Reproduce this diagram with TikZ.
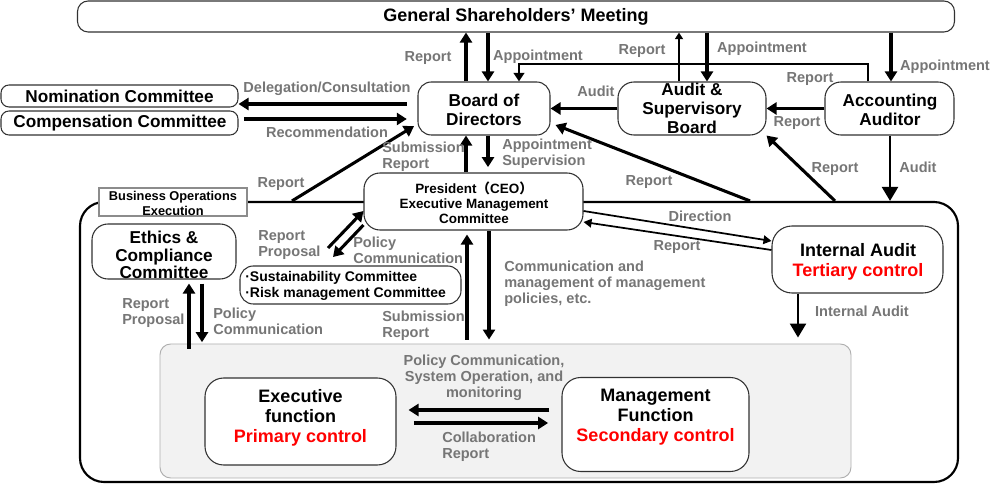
\documentclass[tikz,border=0pt]{standalone}
\usepackage{fontspec}
\setmainfont{Liberation Sans}
\newfontfamily\cjkfont{Noto Sans CJK JP}
\usetikzlibrary{arrows.meta}
\definecolor{lblgray}{RGB}{118,118,118}
\definecolor{bordergray}{RGB}{50,50,50}
\definecolor{panelfill}{RGB}{242,242,242}
\definecolor{panelline}{RGB}{175,175,175}
\definecolor{boegray}{RGB}{140,140,140}
\definecolor{ctrlred}{RGB}{255,0,0}
\newcommand\fontlbl{\fontsize{10.9pt}{12pt}\selectfont\bfseries}
\newcommand\fonttitle{\fontsize{13.5pt}{15pt}\selectfont\bfseries}
\newcommand\fontmid{\fontsize{12.9pt}{14.2pt}\selectfont\bfseries}
\newcommand\fonteth{\fontsize{12.9pt}{13.1pt}\selectfont\bfseries}
\newcommand\fontpres{\fontsize{10.1pt}{11.25pt}\selectfont\bfseries}
\newcommand\fontsus{\fontsize{10.5pt}{11.4pt}\selectfont\bfseries}
\newcommand\fontboe{\fontsize{9.6pt}{11.2pt}\selectfont\bfseries}
\newcommand\fontbig{\fontsize{13.5pt}{15pt}\selectfont\bfseries}
\tikzset{
  wh/.style 2 args={minimum width=#1*0.75pt, minimum height=#2*0.75pt},
  box/.style={draw=bordergray, line width=0.8pt, fill=white, inner sep=0pt},
  txt/.style={inner sep=0pt, align=center, text=black},
  lbl/.style={inner sep=0pt, align=left, text=lblgray, font=\fontlbl},
  arr/.style={line width=2.3pt, -{Triangle[length=7.5pt,width=9pt]}},
  arrmid/.style={line width=1.6pt, -{Triangle[length=6.5pt,width=8pt]}},
  arrthin/.style={line width=1.3pt, -{Triangle[length=5pt,width=6pt]}},
  bigarr/.style={line width=1.8pt, -{Triangle[length=10.5pt,width=12pt]}},
  linarr/.style={line width=1.3pt, -{Triangle[length=6pt,width=6.5pt]}}
}
\begin{document}
\begin{tikzpicture}[x=0.75pt,y={(0pt,-0.75pt)}]
\useasboundingbox (0,0) rectangle (1000,484);
\fill[white] (0,0) rectangle (1000,484);

% outer organisation box
\node[draw=black, line width=1.6pt, rounded corners=18pt, wh={878}{280}, inner sep=0pt] (org) at (519,342) {};
% panel
\node[draw=panelline, line width=0.7pt, fill=panelfill, rounded corners=8pt, wh={691}{134}, inner sep=0pt] (panel) at (505.5,411) {};

% boxes
\node[box, rounded corners=8pt, wh={877}{31}] (gsm) at (516,16.5) {};
\node[box, rounded corners=6pt, wh={237}{22}] (nom) at (119.5,96) {};
\node[box, rounded corners=6pt, wh={237}{24}] (comp) at (119.5,123) {};
\node[box, rounded corners=10pt, wh={132}{53}] (bod) at (484,108.5) {};
\node[box, rounded corners=12pt, wh={148}{53}] (asb) at (692,108.5) {};
\node[box, rounded corners=12pt, wh={129}{53}] (aa) at (889.5,108.5) {};
\node[box, draw=boegray, wh={148}{28}] (boe) at (173,202) {};
\node[box, rounded corners=12pt, wh={219}{57}] (pres) at (473.5,201.5) {};
\node[box, rounded corners=12pt, wh={144}{55}] (eth) at (164,251.5) {};
\node[box, rounded corners=10pt, wh={221}{38}] (sus) at (350.5,285) {};
\node[box, rounded corners=15pt, wh={171}{67}] (ia) at (857.5,259.5) {};
\node[box, rounded corners=14pt, wh={191}{87}] (exe) at (300.5,421.5) {};
\node[box, rounded corners=14pt, wh={187}{94}] (mgmt) at (655.5,424.5) {};

% box texts
\node[txt, font=\fonttitle] (gsmT) at (516,17) {General Shareholders’ Meeting};
\node[txt, font=\fontmid] (nomT) at (119.5,96.5) {Nomination Committee};
\node[txt, font=\fontmid] (compT) at (120,123.5) {Compensation Committee};
\node[txt, font=\fontmid] (bodT) at (484,110) {Board of\\Directors};
\node[txt, font=\fontmid] (asbT) at (692,108.5) {Audit \&\\Supervisory\\Board};
\node[txt, font=\fontmid] (aaT) at (890,109.5) {Accounting\\Auditor};
\node[txt, font=\fontboe] (boeT) at (173,203) {Business Operations\\Execution};
\node[txt, font=\fontpres] (presT) at (474,202.5) {President{\cjkfont （}CEO{\cjkfont ）}\\Executive Management\\Committee};
\node[txt, font=\fonteth] (ethT) at (164,255) {Ethics \&\\Compliance\\Committee};
\node[txt, font=\fontsus, align=left, anchor=west] (susT) at (245,286) {·Sustainability Committee\\·Risk management Committee};
\node[txt, font=\fontbig] (iaT) at (858,261.5) {Internal Audit\\\textcolor{ctrlred}{Tertiary control}};
\node[txt, font=\fontbig] (exeT) at (300.5,418) {Executive\\function\\\textcolor{ctrlred}{Primary control}};
\node[txt, font=\fontbig] (mgmtT) at (655.5,417.5) {Management\\Function\\\textcolor{ctrlred}{Secondary control}};

% coordinates for free arrow ends
\coordinate (sp1) at (328,248);
\coordinate (sp2) at (333,257);
\coordinate (bend1) at (868,64);
\coordinate (bend2) at (519,64);

% GSM <-> Board
\draw[arr] (bod.north -| 466,0) -- (gsm.south -| 466,0);
\draw[arr] (gsm.south -| 488,0) -- (bod.north -| 488,0);
% Accounting auditor line to Board
\draw[arrmid] (aa.north -| 868,0) -- (bend1) -- (bend2) -- (bod.north -| 519,0);
% GSM <-> ASB
\draw[arrthin] (asb.north -| 679,0) -- (gsm.south -| 679,0);
\draw[arr] (gsm.south -| 707,0) -- (asb.north -| 707,0);
% GSM -> AA
\draw[arr] (gsm.south -| 891,0) -- (aa.north -| 891,0);
% ASB -> Board, AA -> ASB
\draw[arr] (asb.west) -- (bod.east);
\draw[arr] (aa.west) -- (asb.east);
% Board -> Nomination, Compensation -> Board
\draw[arr, shorten <=8pt] (bod.west |- 0,104) -- (nom.east |- 0,104);
\draw[arr, shorten <=4pt, shorten >=8pt] (comp.east |- 0,119) -- (bod.west |- 0,119);
% Business operations -> Board
\draw[arr, shorten >=3pt] (org.north -| 292,0) -- (bod.west |- 0,124);
% Board <-> President
\draw[arr] (pres.north -| 466,0) -- (bod.south -| 466,0);
\draw[arr, shorten >=4pt] (bod.south -| 488,0) -- (pres.north -| 488,0);
% outer -> Board, outer -> ASB
\draw[arr, shorten >=4pt] (org.north -| 750,0) -- (bod.east |- 0,123);
\draw[arr] (org.north -| 835,0) -- (asb.south east);
% AA -> outer (Audit)
\draw[bigarr] (aa.south -| 890,0) -- (org.north -| 890,0);
% President <-> Internal audit
\draw[linarr] (pres.east |- 0,211) -- (ia.west |- 0,241);
\draw[linarr] (ia.west |- 0,250) -- (pres.east |- 0,222);
% Sustainability <-> President
\draw[arr] (sp1) -- (pres.west |- 0,211);
\draw[arr] (pres.west |- 0,225) -- (sp2);
% Ethics <-> panel
\draw[arr, shorten <=-4pt, shorten >=3pt] (panel.north -| 189,0) -- (eth.south -| 189,0);
\draw[arr, shorten <=3pt, shorten >=1pt] (eth.south -| 202,0) -- (panel.north -| 202,0);
% President <-> panel
\draw[arr, shorten <=3pt, shorten >=3pt] (panel.north -| 467,0) -- (pres.south -| 467,0);
\draw[arr, shorten >=3pt] (pres.south -| 489,0) -- (panel.north -| 489,0);
% Internal audit -> panel
\draw[bigarr, shorten >=4.5pt] (ia.south -| 798,0) -- (panel.north -| 798,0);
% Management <-> Executive
\draw[arr, shorten <=9pt, shorten >=9pt] (mgmt.west |- 0,410) -- (exe.east |- 0,410);
\draw[arr, shorten <=13pt, shorten >=10pt] (exe.east |- 0,423) -- (mgmt.west |- 0,423);

% labels
\node[lbl] (l1) at (428,58) {Report};
\node[lbl] (l2) at (538,57) {Appointment};
\node[lbl] (l3) at (642,51) {Report};
\node[lbl] (l4) at (762,49) {Appointment};
\node[lbl] (l5) at (945,67) {Appointment};
\node[lbl] (l6) at (810,79) {Report};
\node[lbl] (l7) at (797,123) {Report};
\node[lbl] (l8) at (596,91) {Audit};
\node[lbl, anchor=west] (l9) at (502,153.5) {Appointment\\Supervision};
\node[lbl] (l10) at (649,182) {Report};
\node[lbl] (l11) at (835,169) {Report};
\node[lbl] (l12) at (918,167) {Audit};
\node[lbl] (l13) at (700,216) {Direction};
\node[lbl] (l14) at (677,247) {Report};
\node[lbl, anchor=west] (l15) at (504,284) {Communication and\\management of management\\policies, etc.};
\node[lbl] (l16) at (862,311) {Internal Audit};
\node[lbl] (l17) at (327,89) {Delegation/Consultation};
\node[lbl] (l18) at (327,132) {Recommendation};
\node[lbl] (l19) at (281,184) {Report};
\node[lbl, anchor=west] (l20) at (382,157) {Submission\\Report};
\node[lbl, anchor=west] (l21) at (258,245) {Report\\Proposal};
\node[lbl, anchor=west] (l22) at (353,250.5) {Policy\\Communication};
\node[lbl, anchor=west] (l23) at (122,313) {Report\\Proposal};
\node[lbl, anchor=west] (l24) at (213,321) {Policy\\Communication};
\node[lbl, anchor=west] (l25) at (382,326) {Submission\\Report};
\node[lbl, align=center] (l26) at (484,377.5) {Policy Communication,\\System Operation, and\\monitoring};
\node[lbl, anchor=west] (l27) at (442,446.5) {Collaboration\\Report};
\end{tikzpicture}
\end{document}
